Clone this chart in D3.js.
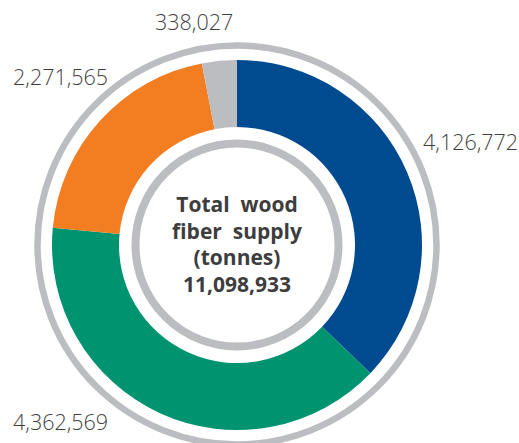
<!DOCTYPE html>
<html>
<head>
<meta charset="utf-8">
<script src="https://cdn.jsdelivr.net/npm/d3@7/dist/d3.min.js"></script>
<style>
  html, body { margin: 0; padding: 0; background: #fff; }
  svg { display: block; }
</style>
</head>
<body>
<svg id="chart" width="519" height="443"></svg>
<script>
// Wood fiber supply by source (tonnes), clockwise from 12 o'clock
const sources = ["Source A", "Source B", "Source C", "Source D"];
const volumes = [4126772, 4362569, 2271565, 338027];
const colors = ["#004B8F", "#00936F", "#F37E22", "#BCBDC0"];
const centerLines = ["Total  wood", "fiber  supply", "(tonnes)"];

const total = d3.sum(volumes);
const fmt = d3.format(",");

const svg = d3.select("#chart");
const cx = 237, cy = 245;
const g = svg.append("g").attr("transform", `translate(${cx},${cy})`);

const rOuter = 185, rInner = 118;

// outer and inner grey rings
g.append("circle").attr("r", 199.5).attr("fill", "none")
  .attr("stroke", "#BCBDC0").attr("stroke-width", 6.5);
g.append("circle").attr("r", 101.5).attr("fill", "none")
  .attr("stroke", "#BCBDC0").attr("stroke-width", 8);

const pie = d3.pie().sort(null).value(d => d.v);
const data = pie(sources.map((s, i) => ({ s, v: volumes[i], c: colors[i] })));
const arc = d3.arc().innerRadius(rInner).outerRadius(rOuter);

g.selectAll("path.slice").data(data).join("path")
  .attr("class", "slice")
  .attr("d", arc)
  .attr("fill", d => d.data.c);

// value labels placed beside each slice
const labelPos = [
  { x: 423, y: 150, anchor: "start" },
  { x: 13, y: 430, anchor: "start" },
  { x: 13, y: 85, anchor: "start" },
  { x: 155, y: 30, anchor: "start" }
];
svg.selectAll("text.val").data(data).join("text")
  .attr("class", "val")
  .attr("x", (d, i) => labelPos[i].x)
  .attr("y", (d, i) => labelPos[i].y)
  .attr("text-anchor", (d, i) => labelPos[i].anchor)
  .attr("font-family", "'Open Sans', sans-serif")
  .attr("font-weight", 300)
  .attr("font-size", 21.5)
  .attr("fill", "#3f3f3f")
  .text(d => fmt(d.data.v));

// centre caption
const lines = centerLines.concat([fmt(total)]);
const ct = g.append("text")
  .attr("text-anchor", "middle")
  .attr("font-family", "'Open Sans', sans-serif")
  .attr("font-weight", 700)
  .attr("font-size", 21)
  .attr("fill", "#3d3d3d")
  .attr("xml:space", "preserve")
  .style("white-space", "pre");
lines.forEach((t, i) => {
  ct.append("tspan").attr("x", 0).attr("y", -33 + i * 26.7).text(t);
});
</script>
</body>
</html>
